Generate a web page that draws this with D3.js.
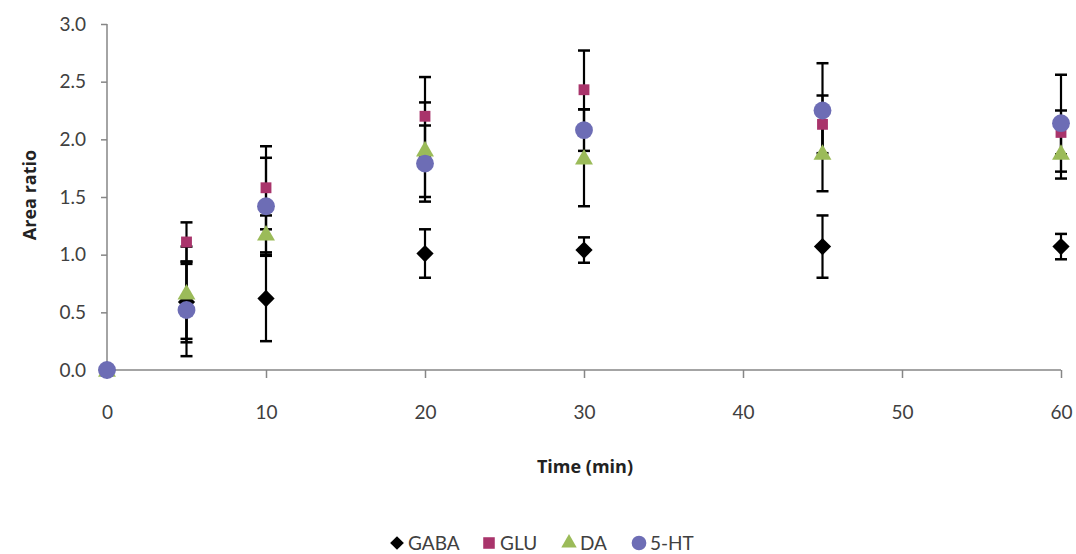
<!DOCTYPE html>
<html><head><meta charset="utf-8">
<script src="https://cdn.jsdelivr.net/npm/d3@7"></script>
<style>body{margin:0;background:#fff}svg{display:block;font-family:Lato,"Open Sans",sans-serif}</style>
</head><body><svg id="c" width="1076" height="554"></svg>
<script>
const times = [0, 5, 10, 20, 30, 45, 60];
const seriesNames = ["GABA", "GLU", "DA", "5-HT"];
const gabaMean = [0, 0.59, 0.62, 1.01, 1.04, 1.07, 1.07];
const gabaErr  = [0, 0.35, 0.37, 0.21, 0.11, 0.27, 0.11];
const gluMean  = [0, 1.11, 1.58, 2.20, 2.43, 2.13, 2.06];
const gluErr   = [0, 0.17, 0.36, 0.34, 0.34, 0.25, 0.19];
const daMean   = [0, 0.67, 1.18, 1.91, 1.84, 1.88, 1.88];
const daErr    = [0, 0.40, 0.16, 0.41, 0.42, 0.33, 0.22];
const htMean   = [0, 0.52, 1.42, 1.79, 2.08, 2.25, 2.14];
const htErr    = [0, 0.40, 0.42, 0.33, 0.18, 0.41, 0.42];
const xTicks = [0, 10, 20, 30, 40, 50, 60];
const yTicks = [0, 0.5, 1.0, 1.5, 2.0, 2.5, 3.0];
const colors = ["#000000", "#A9346B", "#9BBB59", "#6D6DB5"];
const symbols = [d3.symbolDiamond2, d3.symbolSquare2, d3.symbolTriangle2, d3.symbolCircle];

const series = [
  {name: seriesNames[0], mean: gabaMean, err: gabaErr},
  {name: seriesNames[1], mean: gluMean, err: gluErr},
  {name: seriesNames[2], mean: daMean, err: daErr},
  {name: seriesNames[3], mean: htMean, err: htErr}
];

const svg = d3.select("#c");
const x = d3.scaleLinear().domain([0, 60]).range([107, 1061]);
const y = d3.scaleLinear().domain([0, 3]).range([370, 24]);
const axisColor = "#868686", textColor = "#404040";

// axes
const gx = svg.append("g").attr("transform", "translate(0,370)")
  .call(d3.axisBottom(x).tickValues(xTicks).tickSize(8).tickPadding(28).tickFormat(d3.format("d")));
const gy = svg.append("g").attr("transform", "translate(107,0)")
  .call(d3.axisLeft(y).tickValues(yTicks).tickSize(6).tickPadding(15).tickFormat(d3.format(".1f")));
[gx, gy].forEach(g => {
  g.select(".domain").attr("stroke", axisColor).attr("stroke-width", 1.5);
  g.selectAll(".tick line").attr("stroke", axisColor).attr("stroke-width", 1.5);
  g.selectAll(".tick text").attr("fill", textColor).style("font-size", "19px").style("font-family", "Lato, sans-serif");
});
gx.select(".domain").attr("d", "M107,0H1061");
gy.select(".domain").attr("d", "M0,24V370");

// error bars
const eb = svg.append("g");
series.forEach(s => {
  times.forEach((t, i) => {
    if (s.err[i] <= 0) return;
    const cx = x(t), y1 = y(s.mean[i] + s.err[i]), y0 = y(s.mean[i] - s.err[i]);
    eb.append("line").attr("x1", cx).attr("x2", cx).attr("y1", y1).attr("y2", y0)
      .attr("stroke", "#000").attr("stroke-width", 2.2);
    [y1, y0].forEach(yy => eb.append("line").attr("x1", cx - 6).attr("x2", cx + 6)
      .attr("y1", yy).attr("y2", yy).attr("stroke", "#000").attr("stroke-width", 2.5));
  });
});

// markers
const sizes = [190, 150, 230, 250];
series.forEach((s, k) => {
  const sym = d3.symbol().type(symbols[k]).size(sizes[k]);
  svg.append("g").selectAll("path").data(times.map((t, i) => [t, s.mean[i]]))
    .join("path")
    .attr("transform", d => `translate(${x(d[0])},${y(d[1]) + (k === 2 ? 1.5 : 0)})`)
    .attr("d", sym).attr("fill", colors[k]);
});

// axis titles
svg.append("text").attr("x", 585).attr("y", 473).attr("text-anchor", "middle")
  .attr("fill", "#222").style("font-family", "'Open Sans', sans-serif").style("font-weight", "bold").style("font-size", "18px").text("Time (min)");
svg.append("text").attr("transform", "translate(36,195) rotate(-90)").attr("text-anchor", "middle")
  .attr("fill", "#222").style("font-family", "'Open Sans', sans-serif").style("font-weight", "bold").style("font-size", "18px").text("Area ratio");

// legend
const legX = [397, 489, 569, 639];
const leg = svg.append("g");
series.forEach((s, k) => {
  const lsz = [120, 170, 170, 170][k];
  leg.append("path").attr("transform", `translate(${legX[k]},543)`)
    .attr("d", d3.symbol().type(symbols[k]).size(lsz)).attr("fill", colors[k]);
  leg.append("text").attr("x", legX[k] + 11).attr("y", 550).attr("fill", textColor)
    .style("font-size", "19px").text(s.name);
});
</script></body></html>
